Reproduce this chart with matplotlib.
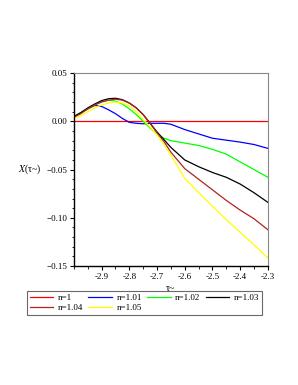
import matplotlib.pyplot as plt
from matplotlib.ticker import MultipleLocator

plt.rcParams['font.family'] = ['Liberation Serif', 'DejaVu Serif']
plt.rcParams['mathtext.fontset'] = 'stix'

# tau~ sample points
tau = [-3.0, -2.975, -2.95, -2.925, -2.9, -2.875, -2.85, -2.825, -2.8, -2.775,
       -2.75, -2.725, -2.7, -2.675, -2.65, -2.6, -2.55, -2.5, -2.45, -2.4,
       -2.35, -2.3]

x_n100 = [0.0] * len(tau)
x_n101 = [0.005, 0.009, 0.013, 0.0165, 0.0155, 0.012, 0.008, 0.003, -0.001, -0.002,
          -0.0025, -0.002, -0.002, -0.002, -0.003, -0.0085, -0.013, -0.0175, -0.0195, -0.0215,
          -0.024, -0.028]
x_n102 = [0.005, 0.009, 0.013, 0.017, 0.0205, 0.022, 0.021, 0.018, 0.013, 0.007,
          0.000, -0.007, -0.013, -0.0175, -0.020, -0.0225, -0.025, -0.029, -0.034, -0.042,
          -0.050, -0.058]
x_n103 = [0.005, 0.009, 0.014, 0.018, 0.0215, 0.0235, 0.024, 0.0225, 0.019, 0.014,
          0.007, -0.002, -0.011, -0.019, -0.027, -0.040, -0.047, -0.053, -0.058, -0.065,
          -0.074, -0.084]
x_n104 = [0.004, 0.008, 0.013, 0.017, 0.020, 0.022, 0.023, 0.022, 0.019, 0.014,
          0.007, -0.002, -0.012, -0.021, -0.032, -0.049, -0.060, -0.071, -0.082, -0.092,
          -0.101, -0.1124]
x_n105 = [0.003, 0.006, 0.010, 0.014, 0.017, 0.019, 0.020, 0.019, 0.016, 0.010,
          0.002, -0.006, -0.014, -0.024, -0.035, -0.059, -0.074, -0.088, -0.102, -0.115,
          -0.128, -0.1417]

labels = ['n=1', 'n=1.01', 'n=1.02', 'n=1.03', 'n=1.04', 'n=1.05']
colors = ['#ff0000', '#0000ff', '#00ff00', '#000000', '#b22222', '#ffff00']
series = [x_n100, x_n101, x_n102, x_n103, x_n104, x_n105]

fig = plt.figure(figsize=(2.98, 3.85), dpi=100)
ax = fig.add_axes([0.248, 0.309, 0.651, 0.501])

lines = []
for ys, c, lab in zip(series, colors, labels):
    ln, = ax.plot(tau, ys, color=c, lw=0.9, label=lab)
    lines.append(ln)

ax.set_xlim(-3.0, -2.3)
ax.set_ylim(-0.15, 0.05)
ax.set_xticks([-2.9, -2.8, -2.7, -2.6, -2.5, -2.4, -2.3])
ax.set_xticklabels(['-2.9', '-2.8', '-2.7', '-2.6', '-2.5', '-2.4', '-2.3'])
ax.set_yticks([0.05, 0.0, -0.05, -0.10, -0.15])
ax.set_yticklabels(['0.05', '0.00', '\u22120.05', '\u22120.10', '\u22120.15'])
ax.xaxis.set_minor_locator(MultipleLocator(0.05))
ax.yaxis.set_minor_locator(MultipleLocator(0.01))
ax.tick_params(axis='both', which='major', labelsize=6.5, length=3, width=0.8, pad=2)
ax.tick_params(axis='both', which='minor', length=1.8, width=0.6)

for s in ['top', 'right']:
    ax.spines[s].set_color('#888888')
ax.spines['left'].set_linewidth(1.0)
ax.spines['bottom'].set_linewidth(1.0)

ax.set_xlabel('\u03c4~', fontsize=7, labelpad=2)
ax.set_ylabel('$X$(\u03c4~)', fontsize=7, rotation=0, labelpad=12, va='center')

# legend fills column-wise, reorder so rows read n=1..1.03 / n=1.04, 1.05
order = [0, 4, 1, 5, 2, 3]
leg = fig.legend([lines[i] for i in order], [labels[i] for i in order],
                 loc='upper left', bbox_to_anchor=(0.09, 0.243), ncol=4,
                 fontsize=6.5, frameon=True, fancybox=False, handlelength=2.6,
                 handletextpad=0.5, columnspacing=0.6, labelspacing=0.15,
                 borderpad=0.3, borderaxespad=0)
leg.get_frame().set_edgecolor('#444444')
leg.get_frame().set_linewidth(0.8)

fig.savefig('out.png', dpi=100)
